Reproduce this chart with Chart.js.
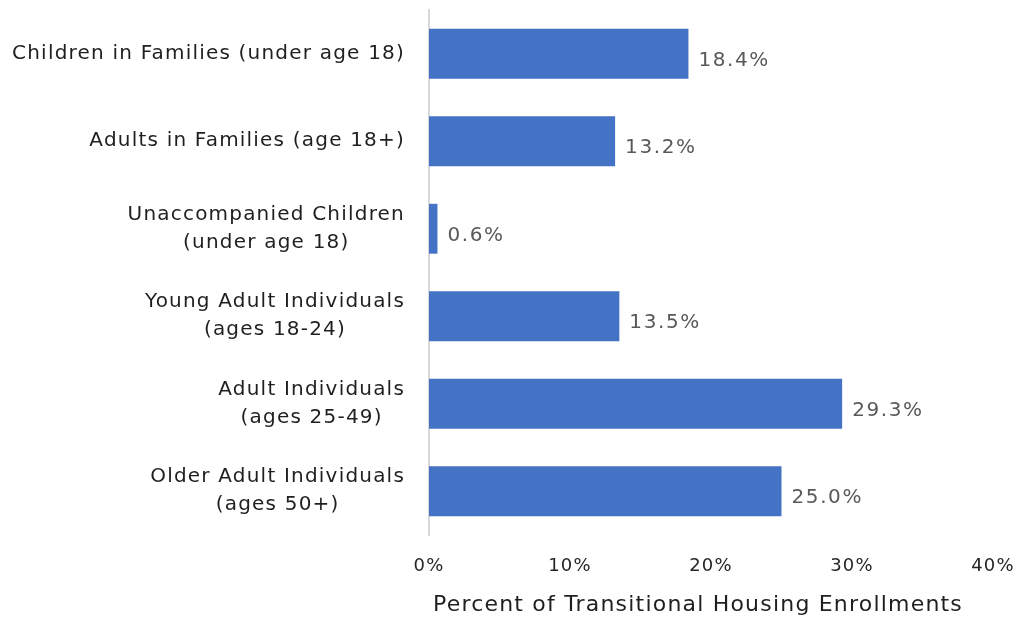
<!DOCTYPE html>
<html>
<head>
<meta charset="utf-8">
<script src="https://cdn.jsdelivr.net/npm/chart.js@4/dist/chart.umd.min.js"></script>
<style>
  html, body { margin: 0; padding: 0; background: #fff; }
  #wrap { width: 1016px; height: 619px; }
</style>
</head>
<body>
<div id="wrap"><canvas id="barChart" width="1016" height="619"></canvas></div>
<script>
const categories = [
    ["Children in Families (under age 18)"],
    ["Adults in Families (age 18+)"],
    ["Unaccompanied Children", "(under age 18)"],
    ["Young Adult Individuals", "(ages 18-24)"],
    ["Adult Individuals", "(ages 25-49)"],
    ["Older Adult Individuals", "(ages 50+)"]
];
const percentValues = [18.4, 13.2, 0.6, 13.5, 29.3, 25.0];
const xTicks = [0, 10, 20, 30, 40];
const axisTitle = "Percent of Transitional Housing Enrollments";

const fontFamily = "'DejaVu Sans', sans-serif";
const spacing = '1.2px';

// wider letter spacing so the substitute font looks closer to the original
const wideText = {
    id: 'wideText',
    beforeDraw(chart) {
        chart.ctx.letterSpacing = spacing;
    }
};

// category labels: block right aligned, lines centered inside the block
const categoryLabels = {
    id: 'categoryLabels',
    afterDraw(chart) {
        const ctx = chart.ctx;
        const yScale = chart.scales.y;
        const rightEdge = 405;
        const lineH = 28;
        ctx.save();
        ctx.letterSpacing = spacing;
        ctx.font = "20px " + fontFamily;
        ctx.fillStyle = '#1f1f1f';
        ctx.textAlign = 'center';
        ctx.textBaseline = 'middle';
        chart.data.labels.forEach((lines, i) => {
            const yc = yScale.getPixelForTick(i);
            const w = Math.max(...lines.map(l => ctx.measureText(l).width));
            const xc = rightEdge - w / 2;
            lines.forEach((line, j) => {
                const y = yc + (j - (lines.length - 1) / 2) * lineH;
                ctx.fillText(line, xc, y);
            });
        });

        // axis title, sits a little left of the plot centre like the original
        ctx.font = "22px " + fontFamily;
        ctx.fillText(axisTitle, 698, 605);
        ctx.restore();
    }
};

// value labels at the end of each bar
const barLabels = {
    id: 'barLabels',
    afterDatasetsDraw(chart) {
        const ctx = chart.ctx;
        const meta = chart.getDatasetMeta(0);
        ctx.save();
        ctx.letterSpacing = '1.6px';
        ctx.font = "20px " + fontFamily;
        ctx.fillStyle = '#595959';
        ctx.textAlign = 'left';
        ctx.textBaseline = 'middle';
        meta.data.forEach((bar, i) => {
            const val = chart.data.datasets[0].data[i];
            ctx.fillText(val.toFixed(1) + '%', bar.x + 10, bar.y + 7);
        });
        ctx.restore();
    }
};

const ctx = document.getElementById("barChart").getContext("2d");
const barChart = new Chart(ctx, {
    type: "bar",
    data: {
        labels: categories,
        datasets: [{
            data: percentValues,
            backgroundColor: "#4472c4",
            borderWidth: 0,
            categoryPercentage: 0.57,
            barPercentage: 1.0
        }]
    },
    options: {
        indexAxis: 'y',
        responsive: false,
        animation: false,
        layout: { padding: { top: 10, right: 23, left: 0, bottom: 0 } },
        plugins: {
            legend: { display: false },
            tooltip: { enabled: false }
        },
        scales: {
            x: {
                min: 0,
                max: 40,
                afterBuildTicks(scale) {
                    scale.ticks = xTicks.map(v => ({ value: v }));
                },
                afterFit(scale) {
                    scale.height = 84;
                    scale.paddingLeft = 0;
                    scale.paddingRight = 0;
                },
                grid: { display: false, drawTicks: false },
                border: { display: false },
                ticks: {
                    padding: 21,
                    color: '#262626',
                    font: { family: fontFamily, size: 18 },
                    callback: v => v + '%'
                },
                title: { display: false }
            },
            y: {
                afterFit(scale) {
                    scale.width = 429;
                    scale.paddingTop = 0;
                    scale.paddingBottom = 0;
                },
                grid: { display: false, drawTicks: false },
                border: { display: true, color: '#d9d9d9', width: 2 },
                ticks: { display: false }
            }
        }
    },
    plugins: [wideText, categoryLabels, barLabels]
});
</script>
</body>
</html>
